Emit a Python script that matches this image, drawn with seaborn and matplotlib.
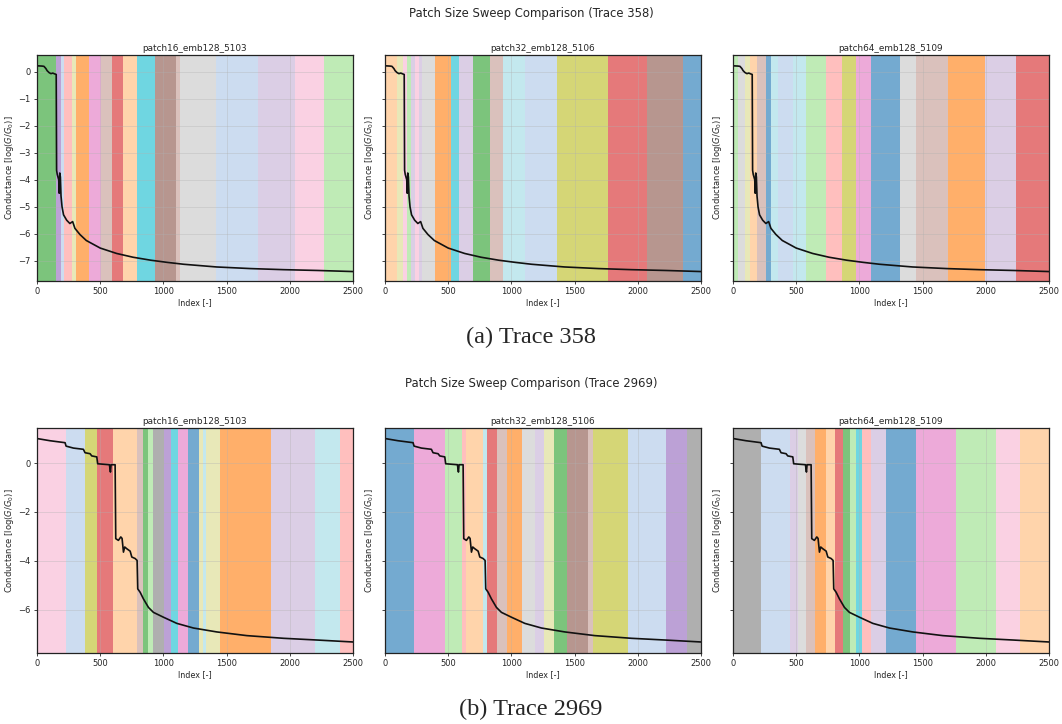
import matplotlib
matplotlib.use("Agg")
import matplotlib.pyplot as plt
import seaborn as sns
import numpy as np

# ---------------- data ----------------
SUPTITLES = ["Patch Size Sweep Comparison (Trace 358)", "Patch Size Sweep Comparison (Trace 2969)"]
CAPTIONS = ["(a) Trace 358", "(b) Trace 2969"]
MODEL_NAMES = ["patch16_emb128_5103", "patch32_emb128_5106", "patch64_emb128_5109"]
X_TICKS = [0, 500, 1000, 1500, 2000, 2500]

# Trace 358 (conductance, log(G/G0))
T358_X = [0, 40, 55, 70, 80, 95, 110, 125, 140, 152, 155, 160, 166, 172, 176, 180, 185, 190, 198,
          210, 235, 260, 282, 300, 340, 390, 500, 630, 760, 900, 1030, 1160, 1420, 1690, 1950, 2220, 2500]
T358_Y = [0.22, 0.21, 0.20, 0.12, 0.04, -0.03, -0.07, -0.05, -0.08, -0.10, -3.65, -3.80, -3.90, -4.0,
          -4.5, -3.75, -3.9, -4.6, -5.0, -5.3, -5.5, -5.62, -5.55, -5.8, -6.03, -6.25, -6.53, -6.73,
          -6.87, -6.98, -7.06, -7.13, -7.23, -7.29, -7.33, -7.36, -7.40]

# Trace 2969
T2969_X = [0, 103, 222, 230, 288, 367, 380, 420, 433, 473, 480, 525, 573, 581, 586, 618, 623, 644,
           663, 673, 684, 694, 710, 737, 750, 776, 792, 797, 816, 842, 882, 921, 1001, 1106, 1238,
           1423, 1660, 1951, 2215, 2500]
T2969_Y = [1.00, 0.91, 0.83, 0.69, 0.61, 0.56, 0.42, 0.38, 0.29, 0.25, -0.03, -0.05, -0.07, -0.37,
           -0.07, -0.07, -3.09, -3.16, -3.02, -3.08, -3.64, -3.43, -3.5, -3.6, -3.84, -3.9, -3.98,
           -5.14, -5.28, -5.55, -5.9, -6.1, -6.3, -6.55, -6.74, -6.9, -7.05, -7.16, -7.23, -7.31]

# cluster segments (edges in index units, labels = tab20 colour index)
T358_P16_EDGES = [0, 150, 187, 216, 275, 308, 414, 507, 597, 678, 790, 930, 1100, 1133, 1420, 1745, 2043, 2268, 2500]
T358_P16_LABELS = [4, 8, 1, 7, 17, 2, 12, 11, 6, 3, 18, 10, 11, 15, 1, 9, 13, 5]
T358_P32_EDGES = [0, 92, 140, 171, 203, 237, 269, 290, 396, 520, 588, 694, 831, 936, 1108, 1364, 1767, 2070, 2355, 2500]
T358_P32_LABELS = [3, 17, 13, 5, 9, 13, 9, 15, 2, 18, 9, 4, 11, 19, 1, 16, 6, 10, 0]
T358_P64_EDGES = [0, 40, 92, 132, 190, 258, 303, 356, 474, 580, 738, 865, 970, 1089, 1318, 1445, 1700, 1990, 2235, 2500]
T358_P64_LABELS = [5, 15, 17, 3, 11, 0, 19, 1, 19, 5, 7, 16, 12, 0, 15, 11, 2, 9, 6]

T2969_P16_EDGES = [0, 227, 380, 473, 605, 789, 842, 882, 916, 1001, 1059, 1114, 1193, 1278, 1317, 1336, 1444, 1851, 2202, 2394, 2500]
T2969_P16_LABELS = [13, 1, 16, 6, 3, 11, 4, 5, 14, 8, 18, 12, 0, 17, 19, 17, 2, 9, 19, 7]
T2969_P32_EDGES = [0, 229, 475, 607, 640, 778, 810, 884, 963, 1082, 1188, 1254, 1334, 1440, 1609, 1643, 1925, 2223, 2392, 2500]
T2969_P32_LABELS = [0, 12, 5, 7, 3, 19, 6, 11, 2, 15, 9, 17, 4, 10, 11, 16, 1, 8, 14]
T2969_P64_EDGES = [0, 224, 448, 514, 580, 646, 739, 805, 871, 923, 976, 1023, 1094, 1213, 1445, 1767, 2084, 2269, 2500]
T2969_P64_LABELS = [14, 1, 9, 15, 11, 2, 3, 6, 4, 5, 18, 7, 9, 0, 12, 5, 13, 3]

YLIMS = [(-7.75, 0.62), (-7.76, 1.43)]
Y_TICKS = [[0, -1, -2, -3, -4, -5, -6, -7], [0, -2, -4, -6]]

# ---------------- style ----------------
sns.set_theme(style="ticks")
plt.rcParams["font.family"] = ["DejaVu Sans"]
plt.rcParams["axes.edgecolor"] = "#222222"
plt.rcParams["axes.linewidth"] = 0.9
palette = sns.color_palette("tab20", 20)

fig = plt.figure(figsize=(10.62, 7.24), dpi=100)

rows = [
    (T358_X, T358_Y, [(T358_P16_EDGES, T358_P16_LABELS), (T358_P32_EDGES, T358_P32_LABELS), (T358_P64_EDGES, T358_P64_LABELS)]),
    (T2969_X, T2969_Y, [(T2969_P16_EDGES, T2969_P16_LABELS), (T2969_P32_EDGES, T2969_P32_LABELS), (T2969_P64_EDGES, T2969_P64_LABELS)]),
]

lefts = [37 / 1062, 385 / 1062, 733 / 1062]
width = 316 / 1062
row_bottoms = [1 - 281 / 724, 1 - 653 / 724]
row_heights = [226 / 724, 225 / 724]
suptitle_y = [1 - 13 / 724, 1 - 384 / 724]
caption_y = [1 - 337 / 724, 1 - 709 / 724]

for r, (tx, ty, segs) in enumerate(rows):
    for c, (edges, labels) in enumerate(segs):
        ax = fig.add_axes([lefts[c], row_bottoms[r], width, row_heights[r]])
        for s, e, lab in zip(edges[:-1], edges[1:], labels):
            ax.axvspan(s, e, color=palette[lab], alpha=0.62, lw=0, zorder=1)
        sns.lineplot(x=tx, y=ty, ax=ax, color="#111111", linewidth=1.2, zorder=3, sort=False)
        ax.set_xlim(0, 2500)
        ax.set_ylim(*YLIMS[r])
        ax.set_xticks(X_TICKS)
        ax.set_yticks(Y_TICKS[r])
        ax.grid(True, color="#b0b0b0", alpha=0.35, linewidth=0.7, zorder=2)
        ax.set_axisbelow(False)
        ax.tick_params(labelsize=6, length=2.5, width=0.6, pad=2)
        if c > 0:
            ax.set_yticklabels([])
        ax.set_title(MODEL_NAMES[c], fontsize=6.4, pad=3)
        ax.set_xlabel("Index [-]", fontsize=5.8, labelpad=1.5)
        ax.set_ylabel(r"Conductance [log$(G/G_0)$]", fontsize=6.0, labelpad=2)
        for sp in ax.spines.values():
            sp.set_visible(True)
            sp.set_zorder(4)
    fig.text(0.5, suptitle_y[r], SUPTITLES[r], ha="center", va="center", fontsize=8.4)
    fig.text(0.5, caption_y[r], CAPTIONS[r], ha="center", va="center", fontsize=17.5,
             family=["Liberation Serif", "DejaVu Serif"])

fig.savefig("out.png", dpi=100, facecolor="white")
